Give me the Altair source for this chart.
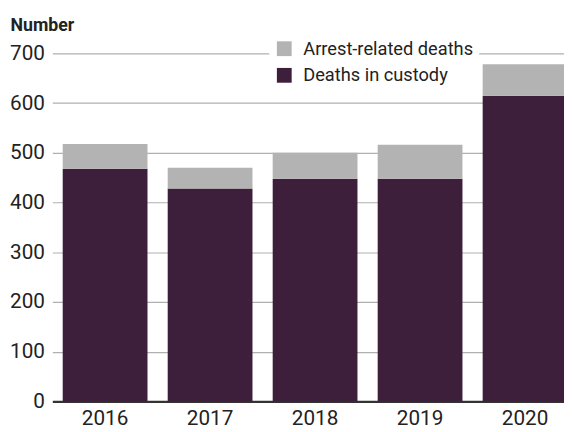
import altair as alt
import pandas as pd

years = ["2016", "2017", "2018", "2019", "2020"]
custody = [468, 428, 448, 448, 615]
arrest_related = [50, 42, 52, 68, 63]
series = ["Arrest-related deaths", "Deaths in custody"]
colors = ["#b3b3b3", "#3d1f3b"]
y_ticks = [0, 100, 200, 300, 400, 500, 600, 700]

rows = []
for i, yr in enumerate(years):
    rows.append({"year": yr, "series": "Deaths in custody", "value": custody[i], "order": 1})
    rows.append({"year": yr, "series": "Arrest-related deaths", "value": arrest_related[i], "order": 2})
df = pd.DataFrame(rows)

FONT = "Roboto"

chart = alt.Chart(df).mark_bar().encode(
    x=alt.X("year:N", sort=years,
            scale=alt.Scale(range=[0, 533], paddingInner=0.1925, paddingOuter=0.0986),
            axis=alt.Axis(title=None, labelAngle=0, ticks=False, labelPadding=6,
                          labelFontSize=21, labelFont=FONT, labelColor="#222",
                          domainColor="#333333", domainWidth=2.5, grid=False)),
    y=alt.Y("value:Q", stack="zero",
            scale=alt.Scale(domain=[0, 700], nice=False),
            axis=alt.Axis(title="Number", values=y_ticks, ticks=False, domain=False,
                          labelPadding=8, labelFontSize=21, labelFont=FONT, labelColor="#222",
                          gridColor="#b0b0b0", gridWidth=1.2,
                          titleAngle=0, titleX=-43, titleY=-23, titleAlign="left",
                          titleBaseline="alphabetic", titleFontSize=18, titleFont=FONT,
                          titleFontWeight="bold", titleColor="#222")),
    color=alt.Color("series:N", sort=series,
                    scale=alt.Scale(domain=series, range=colors),
                    legend=alt.Legend(title=None, orient="none", legendX=220, legendY=-20,
                                      symbolType="square", symbolSize=225, symbolStrokeWidth=0,
                                      labelFontSize=18.5, labelFont=FONT, labelColor="#222",
                                      labelLimit=400,
                                      rowPadding=8, labelOffset=10, padding=6,
                                      fillColor="white")),
    order=alt.Order("order:Q"),
).properties(
    width=519, height=353,
    autosize=alt.AutoSizeParams(type="none"),
    padding={"left": 45, "top": 43, "right": 0, "bottom": 28},
).configure_view(stroke=None)

chart.save("out.html", embed_options={"renderer": "svg", "actions": False})
